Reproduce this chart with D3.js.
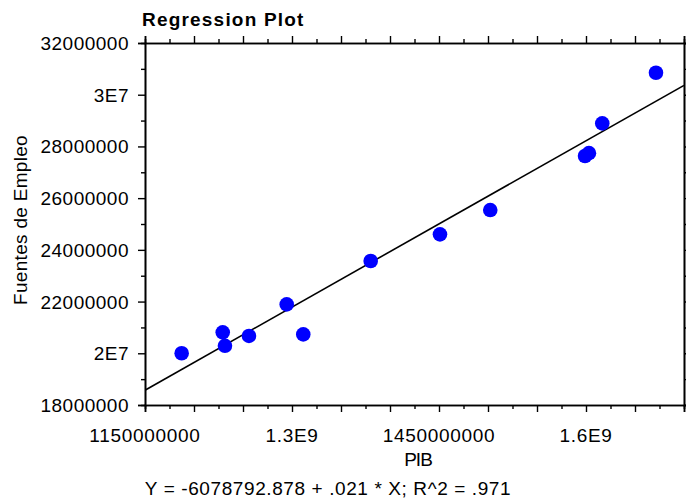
<!DOCTYPE html>
<html><head><meta charset="utf-8">
<script src="https://cdn.jsdelivr.net/npm/d3@7"></script>
<style>body{margin:0;background:#fff}svg{display:block}text{font-family:"Liberation Sans",Arial,sans-serif}</style>
</head><body>
<svg id="c" width="686" height="500"></svg>
<script>
const pib = [1187.4e6,1229.3e6,1231.6e6,1256.1e6,1294.6e6,1311.5e6,1380.3e6,1451.0e6,1502.3e6,1599.0e6,1603.0e6,1616.6e6,1671.4e6];
const empleo = [20.00e6,20.81e6,20.29e6,20.67e6,21.89e6,20.73e6,23.57e6,24.60e6,25.54e6,27.63e6,27.74e6,28.89e6,30.85e6];
const xTickValues = [1150e6,1300e6,1450e6,1600e6];
const xTickLabels = ["1150000000","1.3E9","1450000000","1.6E9"];
const yTickValues = [18e6,20e6,22e6,24e6,26e6,28e6,30e6,32e6];
const yTickLabels = ["18000000","2E7","22000000","24000000","26000000","28000000","3E7","32000000"];
const intercept = -6078792.878, slope = 0.021436;
const equation = "Y = -6078792.878 + .021 * X; R^2 = .971";

const svg = d3.select("#c");
const L=145,R=684,T=43,B=405;
const x = d3.scaleLinear().domain([1150e6,1700e6]).range([L,R]);
const y = d3.scaleLinear().domain([18e6,32e6]).range([B,T]);

const xMajor = d3.range(1150e6,1700e6+1,50e6);
const xMinor = d3.range(1175e6,1700e6,50e6);
const yMajor = d3.range(18e6,32e6+1,2e6);
const yMinor = d3.range(19e6,32e6,2e6);

function tickAxis(axisFn, scale, major, minor){
  const g = svg.append("g");
  g.append("g").call(axisFn(scale).tickValues(major).tickSize(7).tickFormat(""));
  g.append("g").call(axisFn(scale).tickValues(minor).tickSize(4).tickFormat(""));
  g.selectAll("path.domain").attr("stroke","#000").attr("stroke-width",1.6);
  g.selectAll(".tick line").attr("stroke","#000").attr("stroke-width",1.4);
  return g;
}
tickAxis(d3.axisBottom,x,xMajor,xMinor).attr("transform",`translate(0,${B})`);
tickAxis(d3.axisTop,x,xMajor,xMinor).attr("transform",`translate(0,${T})`);
tickAxis(d3.axisLeft,y,yMajor,yMinor).attr("transform",`translate(${L},0)`);
tickAxis(d3.axisRight,y,yMajor,yMinor).attr("transform",`translate(${R},0)`);

// tick labels
svg.append("g").selectAll("text").data(xTickValues).join("text")
  .attr("x",d=>x(d)).attr("y",442).attr("text-anchor","middle")
  .attr("font-size",19).attr("letter-spacing",0.7).text((d,i)=>xTickLabels[i]);
svg.append("g").selectAll("text").data(yTickValues).join("text")
  .attr("x",L-16).attr("y",d=>y(d)+7).attr("text-anchor","end")
  .attr("font-size",19).attr("letter-spacing",0.5).text((d,i)=>yTickLabels[i]);

// regression line
svg.append("clipPath").attr("id","pc").append("rect")
  .attr("x",L).attr("y",T).attr("width",R-L).attr("height",B-T);
const xs = x.domain();
svg.append("line").attr("clip-path","url(#pc)")
  .attr("x1",x(xs[0])).attr("y1",y(intercept+slope*xs[0]))
  .attr("x2",x(xs[1])).attr("y2",y(intercept+slope*xs[1]))
  .attr("stroke","#000").attr("stroke-width",1.6);

// points
svg.append("g").selectAll("circle").data(pib).join("circle")
  .attr("cx",d=>x(d)).attr("cy",(d,i)=>y(empleo[i])).attr("r",7.3).attr("fill","#0000ff");

// titles
svg.append("text").attr("x",142).attr("y",26).attr("font-size",19).attr("font-weight","bold")
  .attr("letter-spacing",1.2).text("Regression Plot");
svg.append("text").attr("transform","translate(27,220) rotate(-90)").attr("text-anchor","middle")
  .attr("font-size",19).attr("letter-spacing",0.3).text("Fuentes de Empleo");
svg.append("text").attr("x",418).attr("y",466).attr("text-anchor","middle").attr("font-size",19)
  .attr("letter-spacing",-1).text("PIB");
svg.append("text").attr("x",328).attr("y",495).attr("text-anchor","middle").attr("font-size",19)
  .attr("letter-spacing",0.6).text(equation);
</script>
</body></html>
